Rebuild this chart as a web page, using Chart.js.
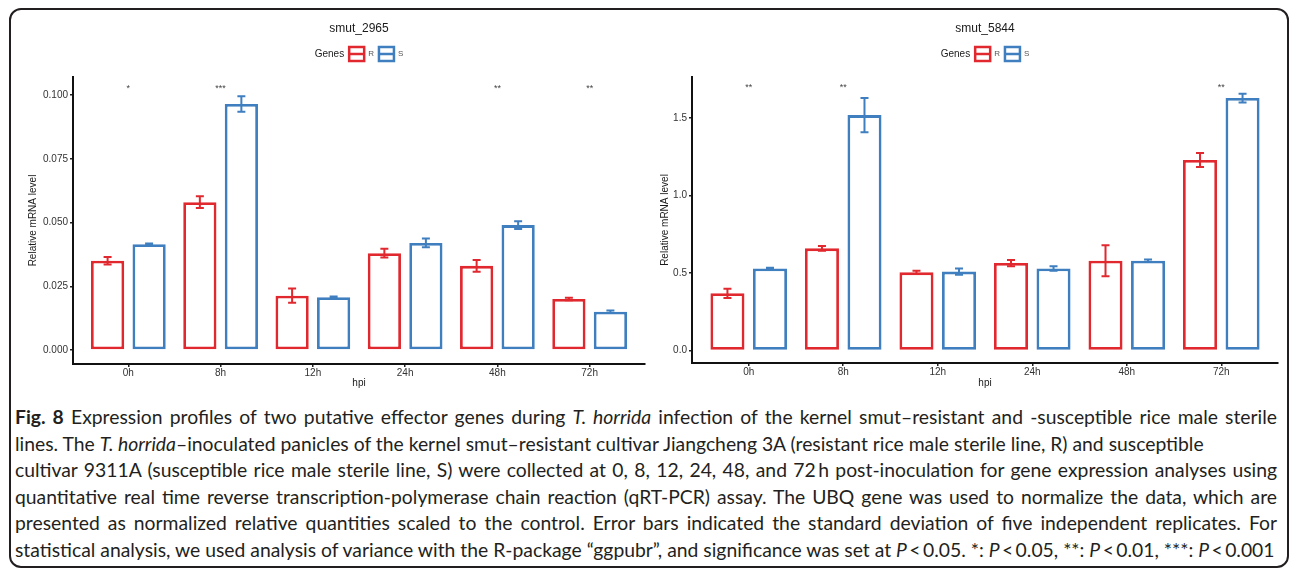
<!DOCTYPE html>
<html>
<head>
<meta charset="utf-8">
<title>smut effector expression</title>
<script src="https://cdn.jsdelivr.net/npm/chart.js@4.4.0/dist/chart.umd.min.js"></script>
<style>
  html, body { margin: 0; padding: 0; background: #fff; }
  body { width: 1290px; height: 569px; position: relative; overflow: hidden; }
  .frame {
    position: absolute; left: 9px; top: 8px; width: 1280px; height: 560px;
    box-sizing: border-box; border: 2px solid #231f20; border-radius: 12px;
  }
  .plot { position: absolute; top: 10px; height: 385px; }
  #left { left: 10px; width: 642px; }
  #right { left: 652px; width: 636px; }
  .caption {
    position: absolute; left: 15px; top: 404px; width: 1262px;
    font-family: Lato, "Open Sans", sans-serif; font-size: 18px; color: #231f20;
  }
  .caption div { height: 26.5px; line-height: 26.5px; white-space: nowrap; }
  .caption .j { text-align: justify; text-align-last: justify; }
</style>
</head>
<body>
<div class="frame"></div>
<div class="plot" id="left"><canvas id="c2965"></canvas></div>
<div class="plot" id="right"><canvas id="c5844"></canvas></div>

<div class="caption" id="cap">
  <div class="j"><b>Fig. 8</b> Expression profiles of two putative effector genes during <i>T. horrida</i> infection of the kernel smut–resistant and -susceptible rice male sterile</div>
  <div>lines. The <i>T. horrida</i>–inoculated panicles of the kernel smut–resistant cultivar Jiangcheng 3A (resistant rice male sterile line, R) and susceptible</div>
  <div class="j">cultivar 9311A (susceptible rice male sterile line, S) were collected at 0, 8, 12, 24, 48, and 72&#8201;h post-inoculation for gene expression analyses using</div>
  <div class="j">quantitative real time reverse transcription-polymerase chain reaction (qRT-PCR) assay. The UBQ gene was used to normalize the data, which are</div>
  <div class="j">presented as normalized relative quantities scaled to the control. Error bars indicated the standard deviation of five independent replicates. For</div>
  <div><span id="lastLine">statistical analysis, we used analysis of variance with the R-package “ggpubr”, and significance was set at <i>P</i>&#8201;&lt;&#8201;0.05. *: <i>P</i>&#8201;&lt;&#8201;0.05, **: <i>P</i>&#8201;&lt;&#8201;0.01, ***: <i>P</i>&#8201;&lt;&#8201;0.001</span></div>
</div>

<script>
// hpi time points
const categories = ['0h', '8h', '12h', '24h', '48h', '72h'];

// smut_2965
const r2965 = [0.0350, 0.0580, 0.0213, 0.0380, 0.0330, 0.0200];
const r2965Sd = [0.0015, 0.0023, 0.0028, 0.0017, 0.0023, 0.0005];
const s2965 = [0.0415, 0.0965, 0.0207, 0.0420, 0.0490, 0.0150];
const s2965Sd = [0.0003, 0.0030, 0.0003, 0.0017, 0.0015, 0.0005];
const sig2965 = ['*', '***', '', '', '**', '**'];
const ticks2965 = [0, 0.025, 0.05, 0.075, 0.1];
const tickLabels2965 = ['0.000', '0.025', '0.050', '0.075', '0.100'];

// smut_5844
const r5844 = [0.370, 0.660, 0.505, 0.565, 0.580, 1.230];
const r5844Sd = [0.030, 0.015, 0.010, 0.020, 0.100, 0.045];
const s5844 = [0.530, 1.520, 0.510, 0.530, 0.580, 1.630];
const s5844Sd = [0.005, 0.110, 0.020, 0.015, 0.008, 0.028];
const sig5844 = ['**', '**', '', '', '', '**'];
const ticks5844 = [0, 0.5, 1.0, 1.5];
const tickLabels5844 = ['0.0', '0.5', '1.0', '1.5'];

const RED = '#e0282e';
const BLUE = '#3f7fbf';

Chart.defaults.font.family = '"Liberation Sans", Arial, sans-serif';
Chart.defaults.animation = false;

// error bars, significance stars, ggplot style title + legend
const ggExtras = {
  id: 'ggExtras',
  afterDatasetsDraw(chart, args, opts) {
    const { ctx } = chart;
    const x = chart.scales.x, y = chart.scales.y;
    chart.data.datasets.forEach((ds, d) => {
      const meta = chart.getDatasetMeta(d);
      ctx.save();
      ctx.strokeStyle = ds.borderColor;
      ctx.lineWidth = 2;
      meta.data.forEach((bar, i) => {
        const v = ds.data[i].y, e = ds.errors[i];
        const top = y.getPixelForValue(v + e), bot = y.getPixelForValue(v - e);
        ctx.beginPath();
        ctx.moveTo(bar.x, top); ctx.lineTo(bar.x, bot);
        ctx.moveTo(bar.x - 4, top); ctx.lineTo(bar.x + 4, top);
        ctx.moveTo(bar.x - 4, bot); ctx.lineTo(bar.x + 4, bot);
        ctx.stroke();
      });
      ctx.restore();
    });

    ctx.save();
    ctx.fillStyle = '#444';
    ctx.font = '9px "Liberation Sans", Arial, sans-serif';
    ctx.textAlign = 'center';
    ctx.textBaseline = 'middle';
    opts.sig.forEach((s, i) => {
      if (s) ctx.fillText(s, x.getPixelForValue(i), y.getPixelForValue(opts.sigY));
    });
    ctx.restore();
  },
  afterDraw(chart, args, opts) {
    const { ctx, chartArea } = chart;
    const cx = (chartArea.left + chartArea.right) / 2;
    ctx.save();
    ctx.textBaseline = 'middle';
    ctx.textAlign = 'center';
    ctx.fillStyle = '#1a1a1a';
    ctx.font = '12px "Liberation Sans", Arial, sans-serif';
    ctx.fillText(opts.title, cx, chartArea.top - 48);

    // legend: "Genes" [box] R [box] S
    const ly = chartArea.top - 23;
    const big = '10px "Liberation Sans", Arial, sans-serif';
    const small = '8px "Liberation Sans", Arial, sans-serif';
    ctx.font = big;
    const wG = ctx.measureText('Genes').width;
    ctx.font = small;
    const items = chart.data.datasets.map(ds => ({ label: ds.label, color: ds.borderColor, w: ctx.measureText(ds.label).width }));
    const boxW = 15, boxH = 14;
    let total = wG;
    items.forEach(it => { total += 5 + boxW + 4 + it.w; });
    let px = cx - total / 2;
    ctx.textAlign = 'left';
    ctx.font = big;
    ctx.fillStyle = '#1a1a1a';
    ctx.fillText('Genes', px, ly);
    px += wG;
    items.forEach(it => {
      px += 5;
      ctx.strokeStyle = it.color;
      ctx.lineWidth = 2.5;
      ctx.strokeRect(px, ly - boxH / 2, boxW, boxH);
      ctx.beginPath();
      ctx.moveTo(px, ly); ctx.lineTo(px + boxW, ly);
      ctx.stroke();
      px += boxW + 4;
      ctx.font = small;
      ctx.fillStyle = '#555';
      ctx.fillText(it.label, px, ly);
      px += it.w;
    });
    ctx.restore();
  }
};

function makeChart(id, cfg) {
  const barStyle = {
    backgroundColor: '#ffffff',
    borderWidth: 2.8,
    borderSkipped: false,
    categoryPercentage: 0.9,
    barPercentage: 0.8
  };
  return new Chart(document.getElementById(id), {
    type: 'bar',
    data: {
      datasets: [
        Object.assign({ label: 'R', borderColor: RED, data: cfg.r.map((v, i) => ({ x: i, y: v })), errors: cfg.rSd }, barStyle),
        Object.assign({ label: 'S', borderColor: BLUE, data: cfg.s.map((v, i) => ({ x: i, y: v })), errors: cfg.sSd }, barStyle)
      ]
    },
    options: {
      responsive: true,
      maintainAspectRatio: false,
      layout: { padding: { top: 67, right: cfg.padRight, bottom: 0, left: 0 } },
      plugins: {
        legend: { display: false },
        tooltip: { enabled: false },
        ggExtras: { title: cfg.title, sig: cfg.sig, sigY: cfg.sigY }
      },
      scales: {
        x: {
          type: 'linear',
          min: -0.6,
          max: 5.6,
          bounds: 'data',
          offset: false,
          afterBuildTicks: s => { s.ticks = categories.map((c, i) => ({ value: i })); },
          afterFit: s => { s.height = cfg.xHeight; },
          grid: { display: true, offset: false, drawOnChartArea: false, drawTicks: true, tickLength: 3, color: '#222', lineWidth: 1.5 },
          border: { display: true, color: '#111', width: 2 },
          ticks: {
            color: '#333', font: { size: 10 }, padding: 0, maxRotation: 0,
            callback: (v, i) => categories[i]
          },
          title: { display: true, text: 'hpi', color: '#1a1a1a', font: { size: 10 }, padding: { top: 0, bottom: 6 } }
        },
        y: {
          type: 'linear',
          min: cfg.yMin,
          max: cfg.yMax,
          bounds: 'data',
          afterBuildTicks: s => { s.ticks = cfg.ticks.map(v => ({ value: v })); },
          afterFit: s => { s.width = cfg.yWidth; },
          grid: { display: true, drawOnChartArea: false, drawTicks: true, tickLength: 3, color: '#222', lineWidth: 1.5 },
          border: { display: true, color: '#111', width: 2 },
          ticks: {
            color: '#333', font: { size: 10 }, padding: 2,
            callback: (v, i) => cfg.tickLabels[i]
          },
          title: { display: true, text: 'Relative mRNA level', color: '#1a1a1a', font: { size: 10 }, padding: { top: cfg.yTitlePad, bottom: 0 } }
        }
      }
    },
    plugins: [ggExtras]
  });
}

makeChart('c2965', {
  title: 'smut_2965', r: r2965, rSd: r2965Sd, s: s2965, sSd: s2965Sd,
  sig: sig2965, sigY: 0.1027, ticks: ticks2965, tickLabels: tickLabels2965,
  yMin: -0.0055, yMax: 0.1071, yWidth: 63, yTitlePad: 17, padRight: 7, xHeight: 31
});

makeChart('c5844', {
  title: 'smut_5844', r: r5844, rSd: r5844Sd, s: s5844, sSd: s5844Sd,
  sig: sig5844, sigY: 1.697, ticks: ticks5844, tickLabels: tickLabels5844,
  yMin: -0.08, yMax: 1.766, yWidth: 40, yTitlePad: 7, padRight: 10, xHeight: 32
});

// fit the caption font so the last (unjustified) line spans like the original
const cap = document.getElementById('cap');
const lastW = document.getElementById('lastLine').getBoundingClientRect().width;
cap.style.fontSize = (18 * 1260 / lastW).toFixed(2) + 'px';
</script>
</body>
</html>
